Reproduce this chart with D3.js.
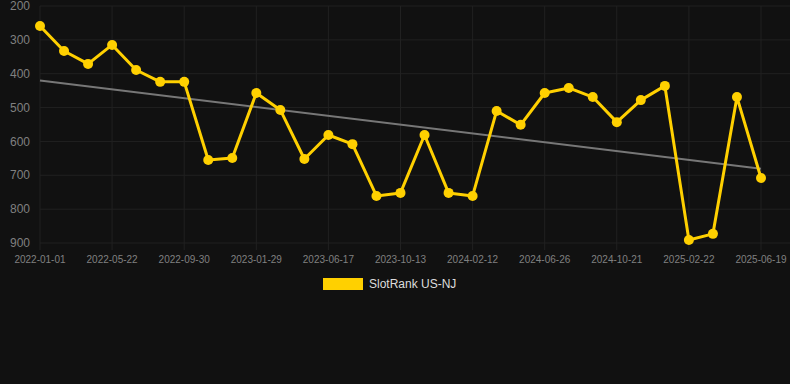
<!DOCTYPE html>
<html>
<head>
<meta charset="utf-8">
<script src="https://cdn.jsdelivr.net/npm/d3@7/dist/d3.min.js"></script>
<style>
  html, body { margin: 0; padding: 0; background: #111111; }
  svg { display: block; }
  text { font-family: "Liberation Sans", Arial, sans-serif; }
</style>
</head>
<body>
<svg id="chart" width="790" height="384"></svg>
<script>
// Tick labels shown on the x axis (every third category)
const tickLabels = ["2022-01-01", "2022-05-22", "2022-09-30", "2023-01-29", "2023-06-17",
  "2023-10-13", "2024-02-12", "2024-06-26", "2024-10-21", "2025-02-22", "2025-06-19"];
// Series values (SlotRank US-NJ), 31 categories
const values = [259, 333, 371, 315, 389, 424, 424, 655, 649, 457,
  507, 652, 581, 608, 761, 752, 581, 752, 761, 510,
  551, 457, 442, 469, 543, 478, 436, 891, 873, 469, 708];
const yTicks = [200, 300, 400, 500, 600, 700, 800, 900];
const seriesName = "SlotRank US-NJ";

const svg = d3.select("#chart");
const W = 790, H = 384;
const m = { left: 40, right: 29, top: 6, bottom: 141 };
const idx = d3.range(values.length);

const x = d3.scaleLinear().domain([0, values.length - 1]).range([m.left, W - m.right]);
const y = d3.scaleLinear().domain([200, 900]).range([m.top, H - m.bottom]);

// grid
const gridColor = "#212121";
svg.append("g").selectAll("line").data(yTicks).join("line")
  .attr("x1", m.left).attr("x2", W)
  .attr("y1", d => y(d)).attr("y2", d => y(d))
  .attr("stroke", gridColor).attr("stroke-width", 1);
const tickIdx = tickLabels.map((_, i) => i * 3);
svg.append("g").selectAll("line").data(tickIdx).join("line")
  .attr("x1", d => x(d)).attr("x2", d => x(d))
  .attr("y1", m.top).attr("y2", y(900) + 7)
  .attr("stroke", gridColor).attr("stroke-width", 1);

// y axis labels
svg.append("g").selectAll("text").data(yTicks).join("text")
  .attr("x", 30).attr("y", d => y(d))
  .attr("dy", "0.35em").attr("text-anchor", "end")
  .attr("fill", "#808080").attr("font-size", 12)
  .text(d => d);

// x axis labels
svg.append("g").selectAll("text").data(tickLabels).join("text")
  .attr("x", (d, i) => x(i * 3)).attr("y", y(900) + 16)
  .attr("dy", "0.35em").attr("text-anchor", "middle")
  .attr("fill", "#808080").attr("font-size", 10)
  .text(d => d);

// trend line (least squares)
const n = values.length;
const mx = d3.mean(idx), my = d3.mean(values);
const slope = d3.sum(idx, i => (i - mx) * (values[i] - my)) / d3.sum(idx, i => (i - mx) ** 2);
const icpt = my - slope * mx;
svg.append("line")
  .attr("x1", x(0)).attr("y1", y(icpt))
  .attr("x2", x(n - 1)).attr("y2", y(icpt + slope * (n - 1)))
  .attr("stroke", "#777").attr("stroke-width", 2);

// series line
const gold = "#FFD000";
svg.append("path").datum(values)
  .attr("fill", "none").attr("stroke", gold).attr("stroke-width", 3)
  .attr("stroke-linejoin", "round")
  .attr("d", d3.line().x((d, i) => x(i)).y(d => y(d)));
svg.append("g").selectAll("circle").data(values).join("circle")
  .attr("cx", (d, i) => x(i)).attr("cy", d => y(d)).attr("r", 5)
  .attr("fill", gold);

// legend
svg.append("rect").attr("x", 323).attr("y", 278).attr("width", 40).attr("height", 12)
  .attr("fill", gold);
svg.append("text").attr("x", 369).attr("y", 284).attr("dy", "0.35em")
  .attr("fill", "#ddd").attr("font-size", 12).text(seriesName);
</script>
</body>
</html>
